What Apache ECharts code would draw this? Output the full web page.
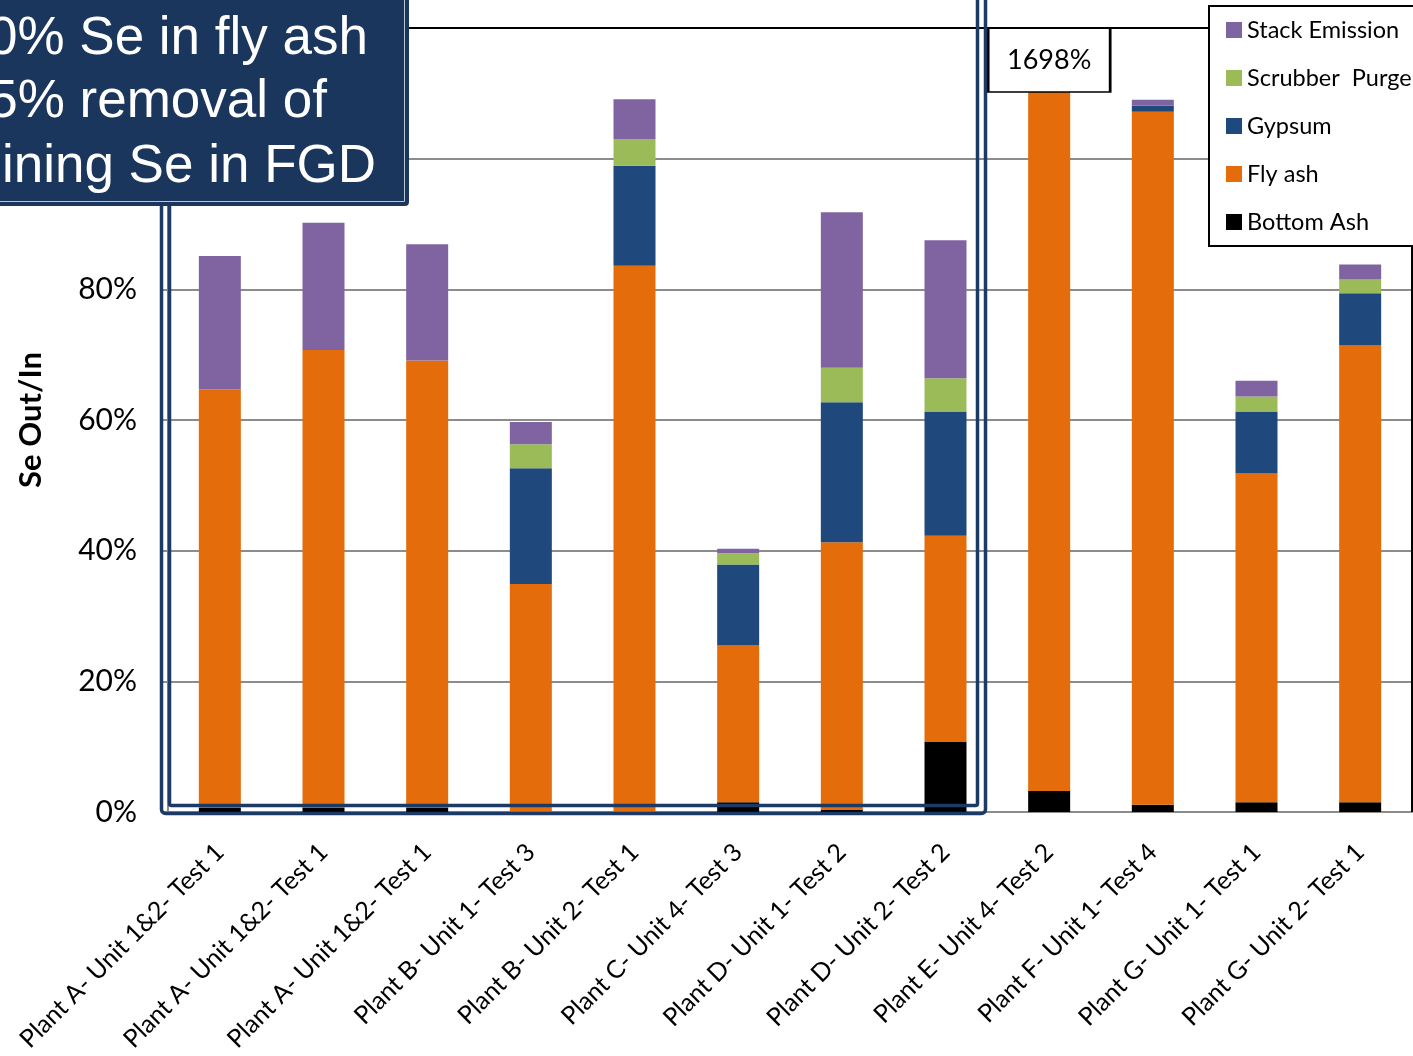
<!DOCTYPE html>
<html>
<head>
<meta charset="utf-8">
<title>Se Out/In</title>
<script src="https://cdn.jsdelivr.net/npm/echarts@6/dist/echarts.min.js"></script>
<style>
  html, body { margin: 0; padding: 0; background: #fff; }
  #chart { width: 1413px; height: 1056px; }
</style>
</head>
<body>
<div id="chart"></div>
<script>
// categories (x axis)
var categories = [
  'Plant A- Unit 1&2- Test 1',
  'Plant A- Unit 1&2- Test 1',
  'Plant A- Unit 1&2- Test 1',
  'Plant B- Unit 1- Test 3',
  'Plant B- Unit 2- Test 1',
  'Plant C- Unit 4- Test 3',
  'Plant D- Unit 1- Test 2',
  'Plant D- Unit 2- Test 2',
  'Plant E- Unit 4- Test 2',
  'Plant F- Unit 1- Test 4',
  'Plant G- Unit 1- Test 1',
  'Plant G- Unit 2- Test 1'
];

// Se out/in, % of input, stacked bottom -> top
var bottomAsh = [0.7, 0.7, 0.7, 0, 0, 1.5, 0.3, 10.7, 3.2, 1.1, 1.5, 1.5];
var flyAsh    = [64.0, 70.0, 68.4, 34.9, 83.6, 24.0, 41.0, 31.6, 1694.8, 106.1, 50.3, 69.9];
var gypsum    = [0, 0, 0, 17.7, 15.3, 12.4, 21.4, 19.0, 0, 0.9, 9.5, 8.0];
var scrubber  = [0, 0, 0, 3.7, 4.1, 1.7, 5.3, 5.1, 0, 0, 2.3, 2.1];
var stackEm   = [20.4, 19.5, 17.8, 3.4, 6.1, 0.7, 23.8, 21.1, 0, 0.9, 2.4, 2.3];

var yTicks = { min: 0, max: 120, interval: 20 };
var bigLabel = '1698%';
var calloutLines = ['0% Se in fly ash', '5% removal of', 'ining Se in FGD'];

var colors = {
  'Bottom Ash': '#000000',
  'Fly ash': '#e46c0a',
  'Gypsum': '#1f497d',
  'Scrubber  Purge': '#9bbb59',
  'Stack Emission': '#8064a2'
};

var font = 'Lato, "Open Sans", sans-serif';
var calloutFont = '53px "Liberation Sans", Arial, sans-serif';
var navy = '#1c3a66';

function bar(name, data) {
  return {
    name: name,
    type: 'bar',
    stack: 'total',
    barWidth: 42,
    data: data,
    itemStyle: { color: colors[name] }
  };
}

var series = [
  bar('Bottom Ash', bottomAsh),
  bar('Fly ash', flyAsh),
  bar('Gypsum', gypsum),
  bar('Scrubber  Purge', scrubber),
  bar('Stack Emission', stackEm)
];

// value box above the off-scale bar
series[1].markPoint = {
  symbol: 'rect',
  symbolSize: [122, 64],
  itemStyle: { color: '#fff', borderColor: '#000', borderWidth: 2 },
  label: {
    show: true,
    formatter: bigLabel,
    color: '#000',
    fontSize: 27,
    fontFamily: font
  },
  data: [{ coord: [categories[8], 115.1] }]
};

var chart = echarts.init(document.getElementById('chart'));

chart.setOption({
  animation: false,
  backgroundColor: '#fff',
  grid: { left: 168, right: 1, top: 28, bottom: 244 },
  legend: {
    z: 90,
    orient: 'vertical',
    left: 1209,
    top: 6,
    data: ['Stack Emission', 'Scrubber  Purge', 'Gypsum', 'Fly ash', 'Bottom Ash'],
    icon: 'rect',
    itemWidth: 16,
    itemHeight: 16,
    itemGap: 24,
    padding: [12, 40, 12, 17],
    backgroundColor: '#fff',
    borderColor: '#000',
    borderWidth: 2,
    textStyle: { fontSize: 23.5, color: '#000', fontFamily: font, lineHeight: 24 }
  },
  xAxis: {
    type: 'category',
    data: categories,
    axisLine: { lineStyle: { color: '#8c8c8c', width: 2 } },
    axisTick: { length: 7, lineStyle: { color: '#8c8c8c', width: 2 } },
    axisLabel: {
      rotate: 45,
      interval: 0,
      margin: 36,
      fontSize: 25,
      color: '#000',
      fontFamily: font
    }
  },
  yAxis: {
    type: 'value',
    min: yTicks.min,
    max: yTicks.max,
    interval: yTicks.interval,
    name: 'Se Out/In',
    nameLocation: 'middle',
    nameGap: 122,
    nameTextStyle: { fontSize: 31, fontWeight: 'bold', color: '#000', fontFamily: font },
    axisLine: { show: true, lineStyle: { color: '#8c8c8c', width: 2 } },
    axisTick: { show: true, length: 6, lineStyle: { color: '#8c8c8c', width: 2 } },
    axisLabel: { formatter: '{value}%', fontSize: 30, color: '#000', margin: 31, fontFamily: font },
    splitLine: { lineStyle: { color: '#8c8c8c', width: 2 } }
  },
  series: series,
  graphic: [
    // plot area top / right border
    { type: 'line', z: 50, shape: { x1: 168, y1: 28, x2: 1412, y2: 28 }, style: { stroke: '#000', lineWidth: 2 } },
    { type: 'line', z: 50, shape: { x1: 1412, y1: 28, x2: 1412, y2: 812 }, style: { stroke: '#000', lineWidth: 2 } },
    // double frame around plants A-D
    { type: 'rect', z: 60, shape: { x: 161.5, y: -20, width: 824, height: 833.5, r: 4 },
      style: { fill: null, stroke: navy, lineWidth: 3.5 } },
    { type: 'rect', z: 60, shape: { x: 169.5, y: -20, width: 808, height: 825.5, r: 2 },
      style: { fill: null, stroke: navy, lineWidth: 3.5 } },
    // callout box
    { type: 'rect', z: 70, shape: { x: -10, y: -10, width: 418, height: 215, r: 3 },
      style: { fill: '#1b365d', stroke: '#1b365d', lineWidth: 2 } },
    { type: 'rect', z: 71, shape: { x: -10, y: -10, width: 414.5, height: 211.5 },
      style: { fill: null, stroke: '#b9c4d3', lineWidth: 1 } },
    { type: 'text', z: 72, style: { text: calloutLines[0], x: 368, y: 39, align: 'right', verticalAlign: 'middle',
      fill: '#fff', font: calloutFont } },
    { type: 'text', z: 72, style: { text: calloutLines[1], x: 327, y: 102, align: 'right', verticalAlign: 'middle',
      fill: '#fff', font: calloutFont } },
    { type: 'text', z: 72, style: { text: calloutLines[2], x: 376, y: 167, align: 'right', verticalAlign: 'middle',
      fill: '#fff', font: calloutFont } }
  ]
});
</script>
</body>
</html>
